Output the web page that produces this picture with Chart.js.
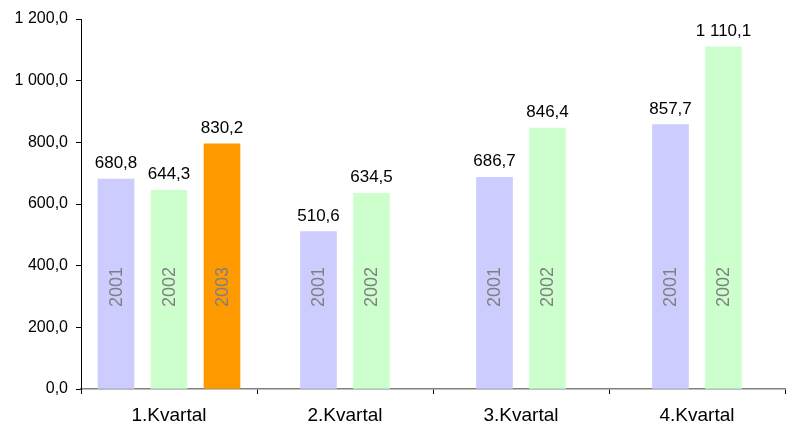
<!DOCTYPE html>
<html>
<head>
<meta charset="utf-8">
<script src="https://cdn.jsdelivr.net/npm/chart.js@4/dist/chart.umd.min.js"></script>
<style>
  html, body { margin: 0; padding: 0; background: #fff; }
  #wrap { width: 787px; height: 430px; }
</style>
</head>
<body>
<div id="wrap"><canvas id="chart"></canvas></div>
<script>
// Data
const quarters = ["1.Kvartal", "2.Kvartal", "3.Kvartal", "4.Kvartal"];
const years = ["2001", "2002", "2003"];
const values2001 = [680.8, 510.6, 686.7, 857.7];
const values2002 = [644.3, 634.5, 846.4, 1110.1];
// the 2003 bar is drawn lower than its printed label in the original
const values2003 = [795, null, null, null];
const labels2001 = ["680,8", "510,6", "686,7", "857,7"];
const labels2002 = ["644,3", "634,5", "846,4", "1 110,1"];
const labels2003 = ["830,2", null, null, null];
const yTicks = [0, 200, 400, 600, 800, 1000, 1200];

const colors = ["#CCCCFF", "#CCFFCC", "#FF9900"];
const FONT = "'Liberation Sans', Arial, sans-serif";

function fmt(v) {
  const s = v.toFixed(1).replace(".", ",");
  const [i, d] = s.split(",");
  return i.replace(/\B(?=(\d{3})+(?!\d))/g, " ") + "," + d;
}

const barLabels = {
  id: "barLabels",
  afterDatasetsDraw(chart) {
    const ctx = chart.ctx;
    const base = chart.scales.y.getPixelForValue(0);
    chart.data.datasets.forEach((ds, di) => {
      const meta = chart.getDatasetMeta(di);
      meta.data.forEach((bar, i) => {
        if (ds.data[i] == null) return;
        ctx.save();
        ctx.fillStyle = "#000";
        ctx.font = "17px " + FONT;
        ctx.textAlign = "center";
        ctx.textBaseline = "alphabetic";
        ctx.fillText(ds.valueLabels[i], bar.x, bar.y - 11);
        ctx.translate(bar.x, base - 82);
        ctx.rotate(-Math.PI / 2);
        ctx.fillStyle = "#808080";
        ctx.font = "18px " + FONT;
        ctx.textAlign = "left";
        ctx.textBaseline = "middle";
        ctx.fillText(ds.label, 0, 1);
        ctx.restore();
      });
    });
  }
};

const seriesValues = [values2001, values2002, values2003];
const seriesLabels = [labels2001, labels2002, labels2003];

new Chart(document.getElementById("chart"), {
  type: "bar",
  data: {
    labels: quarters,
    datasets: years.map((y, k) => ({
      label: y,
      data: seriesValues[k],
      valueLabels: seriesLabels[k],
      backgroundColor: colors[k],
      borderWidth: 0,
      skipNull: true,
      barThickness: 53,
      maxBarThickness: 36
    }))
  },
  options: {
    responsive: true,
    maintainAspectRatio: false,
    animation: false,
    devicePixelRatio: 1,
    layout: { padding: { top: 19, right: 2, left: 0, bottom: 0 } },
    plugins: { legend: { display: false }, tooltip: { enabled: false } },
    scales: {
      x: {
        offset: true,
        grid: { offset: true, drawOnChartArea: false, tickLength: 5, color: "#000" },
        border: { color: "#808080", width: 1.5 },
        ticks: { color: "#000", font: { family: FONT, size: 19 }, padding: 10 },
        afterFit: (axis) => { axis.height = 41; }
      },
      y: {
        min: 0,
        max: 1200,
        afterBuildTicks: (axis) => { axis.ticks = yTicks.map(v => ({ value: v })); },
        grid: { drawOnChartArea: false, tickLength: 5, color: "#000" },
        border: { color: "#000", width: 1 },
        ticks: { color: "#000", font: { family: FONT, size: 16 }, padding: 8, callback: (v) => fmt(v) },
        afterFit: (axis) => { axis.width = 81; }
      }
    }
  },
  plugins: [barLabels]
});
</script>
</body>
</html>
